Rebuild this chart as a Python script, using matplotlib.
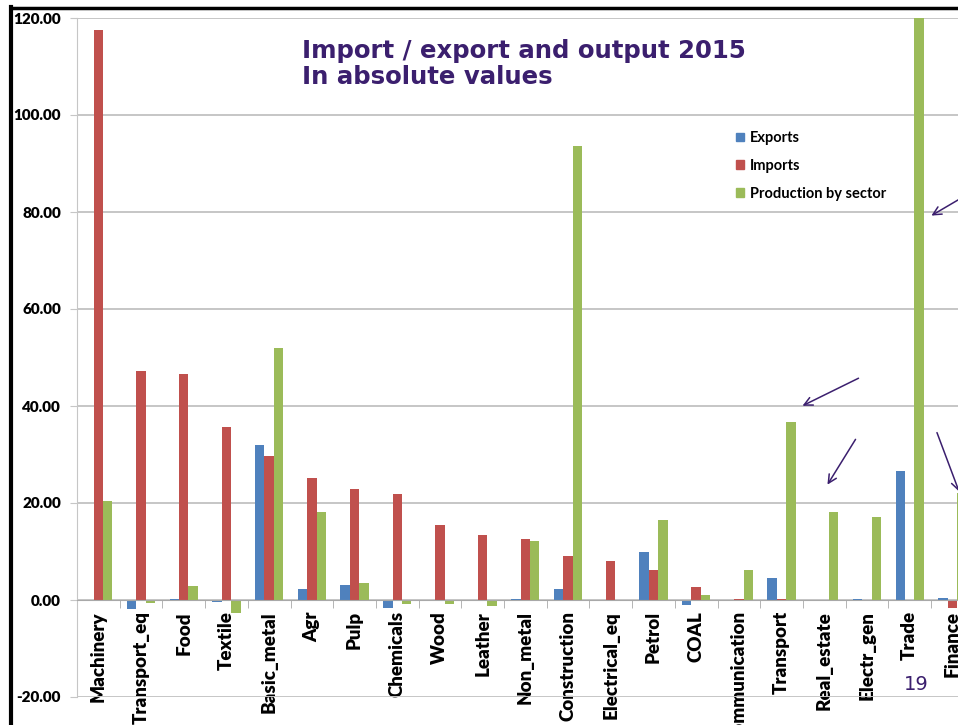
import numpy as np
import matplotlib
matplotlib.use("Agg")
from matplotlib import pyplot as plt
from matplotlib.patches import Patch, FancyArrowPatch
from matplotlib.lines import Line2D

sectors = ["Machinery", "Transport_eq", "Food", "Textile", "Basic_metal", "Agr",
           "Pulp", "Chemicals", "Wood", "Leather", "Non_metal", "Construction",
           "Electrical_eq", "Petrol", "COAL", "Communication", "Transport",
           "Real_estate", "Electr_gen", "Trade", "Finance"]
exports = [0.1, -1.8, 0.3, -0.4, 32.0, 2.2, 3.1, -1.6, -0.2, -0.2, 0.2, 2.3,
           -0.3, 10.0, -1.1, 0.1, 4.5, 0.0, 0.2, 26.5, 0.4]
imports = [117.6, 47.2, 46.5, 35.7, 29.6, 25.2, 22.8, 21.9, 15.4, 13.4, 12.6, 9.1,
           8.1, 6.2, 2.7, 0.2, 0.2, 0.0, 0.1, 0.0, -1.7]
production = [20.5, -0.7, 2.9, -2.7, 51.9, 18.2, 3.6, -0.8, -0.8, -1.2, 12.2, 93.7,
              -0.2, 16.5, 1.0, 6.2, 36.6, 18.2, 17.2, 125.0, 22.0]

blue = "#4f81bd"
red = "#c0504d"
green = "#9bbb59"
purple = "#3b1f6e"
grid = "#c6c6c6"

W, H = 958, 725
fig = plt.figure(figsize=(W / 100, H / 100), dpi=100)
ax = fig.add_axes([77 / W, 1 - 697 / H, (W - 77) / W, (697 - 18) / H])

x = np.arange(len(sectors))
bw = 0.22
ax.bar(x - bw, exports, bw, color=blue, label="Exports", zorder=3)
ax.bar(x, imports, bw, color=red, label="Imports", zorder=3)
ax.bar(x + bw, production, bw, color=green, label="Production by sector", zorder=3)

ax.set_yticks(np.arange(-20, 121, 20))
ax.set_yticklabels([f"{v:.2f}" for v in np.arange(-20, 121, 20)])
ax.grid(axis="y", color=grid, linewidth=1.4, zorder=0)

for s in ["top", "right"]:
    ax.spines[s].set_visible(False)
ax.spines["left"].set_color(grid)
ax.spines["bottom"].set_color("#a8a8a8")
ax.spines["bottom"].set_position(("data", 0))
ax.spines["bottom"].set_zorder(4)

ax.set_xticks(x)
ax.set_xticklabels(sectors, rotation=90, va="top", ha="center",
                   fontfamily="Lato", fontweight="heavy", fontsize=13.5)
ax.set_xticks(np.arange(-0.5, len(sectors), 1), minor=True)
ax.tick_params(axis="x", which="major", length=0, pad=8)
ax.tick_params(axis="x", which="minor", length=6, color="#a8a8a8", direction="out")
ax.tick_params(axis="y", length=5, color=grid, pad=6.5)
for t in ax.get_yticklabels():
    t.set_fontfamily("Lato")
    t.set_fontweight("heavy")
    t.set_fontsize(11)

# limits last, so the tick setters do not widen them
ax.set_ylim(-20, 120)
ax.set_xlim(-0.5, (W - 77) / 42.7 - 0.5)

handles = [Patch(color=blue), Patch(color=red), Patch(color=green)]
fig.legend(handles, ["Exports", "Imports", "Production by sector"],
           loc="upper left", bbox_to_anchor=(723 / W, 1 - 118 / H),
           frameon=False, handlelength=0.55, handleheight=0.55, handletextpad=0.4,
           labelspacing=0.95, prop={"family": "Lato", "weight": "bold", "size": 10.5})

fig.text(302 / W, 1 - 64 / H, "Import / export and output 2015\nIn absolute values",
         color=purple, fontsize=17.6, fontweight="bold", va="center", ha="left",
         linespacing=1.15, fontfamily="DejaVu Sans")
fig.text(916 / W, 1 - 684 / H, "19", color=purple, fontsize=14, ha="center", va="center")

# hand-drawn style arrows
arrows = [((975, 190), (929, 217)), ((861, 377), (800, 407)),
          ((857, 437), (826, 487)), ((936, 430), (960, 494))]
for (x0, y0), (x1, y1) in arrows:
    fig.add_artist(FancyArrowPatch(
        (x0 / W, 1 - y0 / H), (x1 / W, 1 - y1 / H), transform=fig.transFigure,
        arrowstyle="->,head_length=6,head_width=3", color=purple, linewidth=1.1))

# slide frame
fig.add_artist(Line2D([11 / W, 11 / W], [0, 1 - 7 / H], color="black", linewidth=3,
                      transform=fig.transFigure))
fig.add_artist(Line2D([11 / W, 1], [1 - 8 / H, 1 - 8 / H], color="black", linewidth=2.5,
                      transform=fig.transFigure))

fig.savefig("out.png", dpi=100)
